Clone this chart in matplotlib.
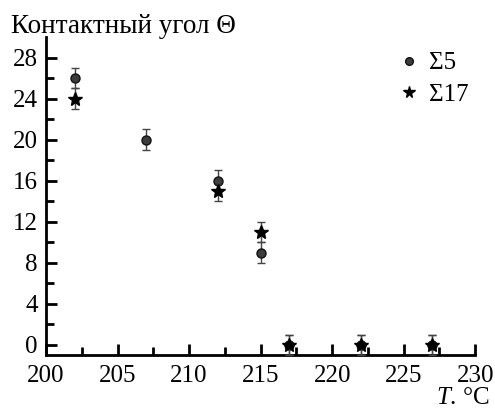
import numpy as np
import matplotlib as mpl
from matplotlib import pyplot as plt
mpl.use('Agg')

FONT = 'Liberation Serif'
plt.rcParams['font.family'] = FONT
plt.rcParams['mathtext.fontset'] = 'custom'
plt.rcParams['mathtext.it'] = 'Liberation Serif:italic'
plt.rcParams['mathtext.rm'] = 'Liberation Serif'

# data
t_s5 = [202, 207, 212, 215, 217, 222, 227]
theta_s5 = [26, 20, 16, 9, 0, 0, 0]
err_s5 = [1, 1, 1, 1, 1, 1, 1]

t_s17 = [202, 212, 215, 217, 222, 227]
theta_s17 = [24, 15, 11, 0, 0, 0]
err_s17 = [1, 1, 1, 1, 1, 1]

xticks = [200, 205, 210, 215, 220, 225, 230]
yticks = [0, 4, 8, 12, 16, 20, 24, 28]

fig = plt.figure(figsize=(4.95, 4.12), dpi=100)
ax = fig.add_axes([0.093, 0.138, 0.867, 0.772])

ax.errorbar(t_s5, theta_s5, yerr=err_s5, fmt='o', ms=6.5,
            mfc='#3c3c3c', mec='#111111', ecolor='#444444', elinewidth=1,
            capsize=3, capthick=1, label='Σ5', zorder=3)
ax.errorbar(t_s17, theta_s17, yerr=err_s17, fmt='*', ms=10,
            mfc='black', mec='black', ecolor='#444444', elinewidth=1,
            capsize=3, capthick=1, label='Σ17', zorder=4)

ax.set_xlim(200, 230)
ax.set_ylim(-1, 30)
ax.set_xticks(xticks)
ax.set_yticks(yticks)
ax.set_xticklabels([str(v) for v in xticks], family=FONT, fontsize=18)
ax.set_yticklabels([str(v) for v in yticks], family=FONT, fontsize=18)
ax.set_xticks(np.arange(202.5, 230, 5), minor=True)
ax.set_yticks(np.arange(2, 30, 4), minor=True)
ax.tick_params(which='both', direction='in', width=2)
ax.tick_params(which='major', length=8)
ax.tick_params(which='minor', length=6)
ax.tick_params(axis='x', pad=7)
ax.tick_params(axis='y', pad=6)

for s in ['top', 'right']:
    ax.spines[s].set_visible(False)
for s in ['left', 'bottom']:
    ax.spines[s].set_linewidth(2)

fig.text(0.022, 0.935, 'Контактный угол Θ', family=FONT, fontsize=19.5,
         va='center', ha='left')
fig.text(0.99, 0.035, r'$\mathit{T}$. °C', family=FONT, fontsize=18,
         va='center', ha='right')

handles, labels = ax.get_legend_handles_labels()
handles = [h[0] for h in handles]
ax.legend(handles, labels, loc='upper right', bbox_to_anchor=(1.038, 1.024),
          frameon=False, prop={'family': FONT, 'size': 18},
          handletextpad=0.3, handlelength=1.0, labelspacing=0.35,
          markerscale=0.85)

plt.savefig('out.png', dpi=100)
